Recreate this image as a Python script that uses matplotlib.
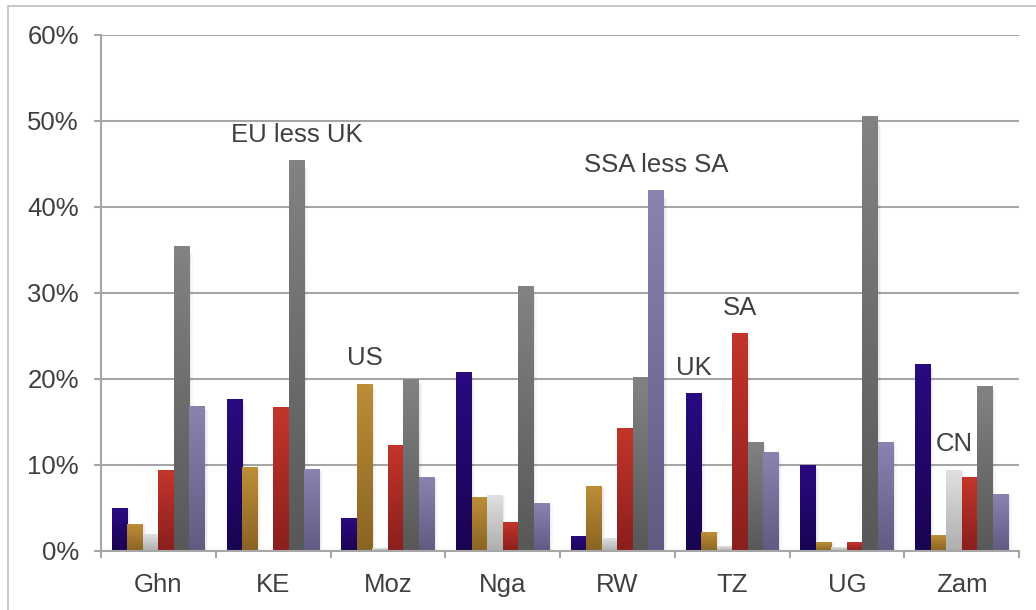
import numpy as np
import matplotlib
matplotlib.use("Agg")
import matplotlib.pyplot as plt
from matplotlib.patches import Rectangle
from matplotlib.colors import LinearSegmentedColormap
from matplotlib.ticker import FuncFormatter

plt.rcParams['font.family'] = ['Liberation Sans', 'DejaVu Sans']

countries = ['Ghn', 'KE', 'Moz', 'Nga', 'RW', 'TZ', 'UG', 'Zam']
series = ['UK', 'US', 'CN', 'SA', 'EU less UK', 'SSA less SA']

uk = [5.0, 17.6, 3.8, 20.7, 1.7, 18.3, 9.9, 21.7]
us = [3.1, 9.7, 19.4, 6.2, 7.5, 2.2, 1.0, 1.8]
cn = [1.9, 0.0, 0.3, 6.5, 1.4, 0.5, 0.35, 9.4]
sa = [9.4, 16.7, 12.3, 3.3, 14.3, 25.3, 1.0, 8.55]
eu = [35.4, 45.4, 19.9, 30.7, 20.2, 12.6, 50.5, 19.1]
ssa = [16.8, 9.5, 8.5, 5.5, 41.9, 11.5, 12.6, 6.6]

# (top colour, bottom colour) gradients
grads = [('#2a0a80', '#190452'),
         ('#bc8e37', '#8a6423'),
         ('#e0e0e0', '#aeaeae'),
         ('#c3352b', '#8a1f1d'),
         ('#828282', '#585858'),
         ('#8a83b0', '#625a82')]

# label shown above one bar: (series index, country index)
callouts = [(4, 1), (1, 2), (5, 4), (0, 5), (3, 5), (2, 7)]

values = [uk, us, cn, sa, eu, ssa]
text_col = '#404040'
grid_col = '#a6a6a6'

fig = plt.figure(figsize=(10.36, 6.10), dpi=100)
fig.patches.append(Rectangle((8 / 1036, -0.1), 1.2, 1 - 6 / 610 + 0.1,
                             transform=fig.transFigure, fill=False,
                             edgecolor='#bdbdbd', linewidth=1.2))
ax = fig.add_axes([101 / 1036, 1 - 551 / 610, 918 / 1036, 516 / 610])

x = np.arange(len(countries))
w = 0.135
ramp = np.linspace(0, 1, 64).reshape(-1, 1)
all_bars = []
for i, vals in enumerate(values):
    off = (i - 2.5) * w
    bars = ax.bar(x + off, vals, w, color='none', edgecolor='none', zorder=3)
    cmap = LinearSegmentedColormap.from_list('g%d' % i, [grads[i][1], grads[i][0]])
    for b in bars:
        bx, bw, bh = b.get_x(), b.get_width(), b.get_height()
        if bh <= 0:
            continue
        # soft shadow on the right
        for k, a in enumerate([0.05, 0.03]):
            ax.add_patch(Rectangle((bx + bw, 0), 0.015 * (k + 1), bh * 0.98,
                                   color='#000000', alpha=a, linewidth=0,
                                   zorder=2.5))
        ax.imshow(ramp, extent=(bx, bx + bw, 0, bh), origin='lower',
                  cmap=cmap, aspect='auto', zorder=3, interpolation='bilinear')
    all_bars.append(bars)

for si, ci in callouts:
    b = all_bars[si][ci]
    ax.text(b.get_x() + b.get_width() / 2, b.get_height() + 3.0, series[si],
            ha='center', va='center', fontsize=18.5, color=text_col, zorder=5)

ax.set_xlim(-0.5, len(countries) - 0.5)
ax.set_ylim(0, 60)
ax.set_yticks(np.arange(0, 61, 10))
ax.yaxis.set_major_formatter(FuncFormatter(lambda v, p: '%d%%' % v))
ax.set_xticks(x)
ax.set_xticklabels(countries)
ax.set_xticks(np.arange(-0.5, len(countries)), minor=True)
ax.tick_params(axis='x', which='major', length=0, pad=16, labelsize=18.5,
               labelcolor=text_col)
ax.tick_params(axis='x', which='minor', length=5, width=1.5, color=grid_col)
ax.tick_params(axis='y', length=5, width=1.5, color=grid_col, pad=11,
               labelsize=18.5, labelcolor=text_col)

ax.yaxis.grid(True, color=grid_col, linewidth=1.5, zorder=0)
ax.set_axisbelow(True)
for s in ['top', 'right']:
    ax.spines[s].set_visible(False)
for s in ['left', 'bottom']:
    ax.spines[s].set_color(grid_col)
    ax.spines[s].set_linewidth(1.5)
    ax.spines[s].set_zorder(4)

fig.savefig('out.png', dpi=100)
